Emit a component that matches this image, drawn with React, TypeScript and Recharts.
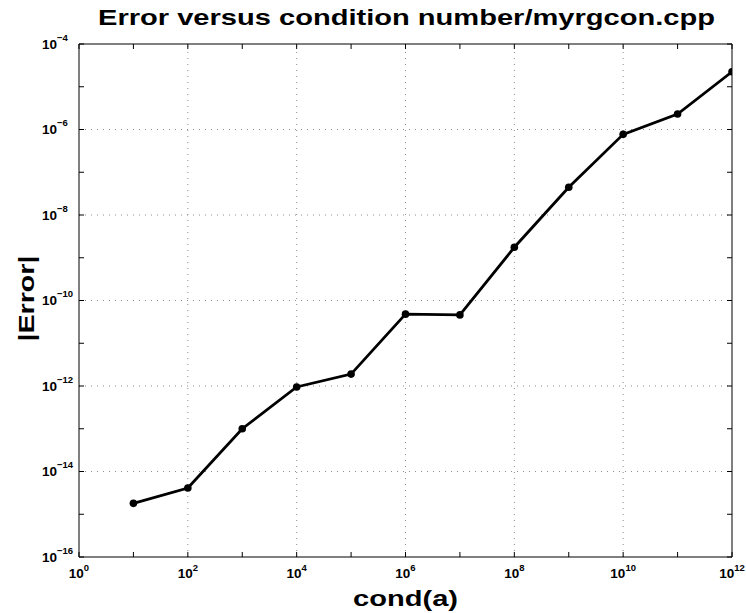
import React from 'react';
import { LineChart, Line, XAxis, YAxis, ReferenceLine } from 'recharts';

// ---- data ----
const condValues = [1e1, 1e2, 1e3, 1e4, 1e5, 1e6, 1e7, 1e8, 1e9, 1e10, 1e11, 1e12];
const errorValues = [1.8e-15, 4.1e-15, 1.0e-13, 9.5e-13, 1.9e-12, 4.8e-11, 4.6e-11, 1.76e-9, 4.45e-8, 7.7e-7, 2.3e-6, 2.24e-5];
const xTickExponents = [0, 1, 2, 3, 4, 5, 6, 7, 8, 9, 10, 11, 12];
const yTickExponents = [-16, -15, -14, -13, -12, -11, -10, -9, -8, -7, -6, -5, -4];
const xGridExponents = [2, 4, 6, 8, 10];
const yGridExponents = [-14, -12, -10, -8, -6];
const titleText = 'Error versus condition number/myrgcon.cpp';
const xLabelText = 'cond(a)';
const yLabelText = '|Error|';

const data = condValues.map((c, i) => ({ cond: c, err: errorValues[i] }));
const xTicks = xTickExponents.map((e) => Math.pow(10, e));
const yTicks = yTickExponents.map((e) => Math.pow(10, e));
const xDomain = [xTicks[0], xTicks[xTicks.length - 1]];
const yDomain = [yTicks[0], yTicks[yTicks.length - 1]];

const FONT = '"Liberation Sans", Arial, Helvetica, sans-serif';
const TICK = 5;

const expOf = (v: number) => Math.round(Math.log10(v));

function BottomTick(props: any) {
  const { x, y, payload } = props;
  const e = expOf(payload.value);
  return (
    <g>
      <line x1={x} x2={x} y1={y} y2={y - TICK} stroke="#000" strokeWidth={1} />
      {e % 2 === 0 && (
        <text x={x} y={y + 21} textAnchor="middle" fontFamily={FONT} fontWeight="bold" fontSize={13.5} fill="#000">
          10<tspan fontSize={9.5} dy={-7}>{e}</tspan>
        </text>
      )}
    </g>
  );
}

function TopTick(props: any) {
  const { x, y } = props;
  return <line x1={x} x2={x} y1={y} y2={y + TICK} stroke="#000" strokeWidth={1} />;
}

function LeftTick(props: any) {
  const { x, y, payload } = props;
  const e = expOf(payload.value);
  return (
    <g>
      <line x1={x} x2={x + TICK} y1={y} y2={y} stroke="#000" strokeWidth={1} />
      {e % 2 === 0 && (
        <text x={x - 37} y={y + 4.5} textAnchor="start" fontFamily={FONT} fontWeight="bold" fontSize={13.5} fill="#000">
          10<tspan fontSize={9.5} dy={-8}>{'\u2212' + Math.abs(e)}</tspan>
        </text>
      )}
    </g>
  );
}

function RightTick(props: any) {
  const { x, y } = props;
  return <line x1={x} x2={x - TICK} y1={y} y2={y} stroke="#000" strokeWidth={1} />;
}

function TitleLabel(props: any) {
  const vb = props.viewBox || { x: 0, y: 0, width: 0, height: 0 };
  return (
    <text x={vb.x + vb.width / 2 + 1} y={vb.y - 18} textAnchor="middle" fontFamily={FONT} fontWeight="bold" fontSize={22.5} fill="#000" textLength={617} lengthAdjust="spacingAndGlyphs">
      {titleText}
    </text>
  );
}

function XLabel(props: any) {
  const vb = props.viewBox || { x: 0, y: 0, width: 0, height: 0 };
  return (
    <text x={vb.x + vb.width / 2} y={vb.y + 49} textAnchor="middle" fontFamily={FONT} fontWeight="bold" fontSize={22.5} fill="#000" textLength={105} lengthAdjust="spacingAndGlyphs">
      {xLabelText}
    </text>
  );
}

function YLabel(props: any) {
  const vb = props.viewBox || { x: 0, y: 0, width: 0, height: 0 };
  const cx = vb.x + 34;
  const cy = vb.y + vb.height / 2 - 2;
  return (
    <text x={cx} y={cy} transform={`rotate(-90, ${cx}, ${cy})`} textAnchor="middle" fontFamily={FONT} fontWeight="bold" fontSize={22.5} fill="#000" textLength={86} lengthAdjust="spacingAndGlyphs">
      {yLabelText}
    </text>
  );
}

export default function App() {
  return (
    <div style={{ position: 'absolute', left: 0, top: 0, background: '#fff' }}>
      <LineChart width={746} height={613} data={data} margin={{ top: 43, right: 13, bottom: 0, left: 0 }}>
        <XAxis
          xAxisId="b"
          dataKey="cond"
          type="number"
          scale="log"
          domain={xDomain}
          ticks={xTicks}
          allowDataOverflow
          interval={0}
          orientation="bottom"
          height={56}
          tickSize={0}
          tickMargin={0}
          tickLine={false}
          axisLine={{ stroke: '#000', strokeWidth: 1 }}
          tick={<BottomTick />}
          label={<XLabel />}
        />
        <XAxis
          xAxisId="t"
          dataKey="cond"
          type="number"
          scale="log"
          domain={xDomain}
          ticks={xTicks}
          allowDataOverflow
          interval={0}
          orientation="top"
          height={1}
          tickSize={0}
          tickMargin={0}
          tickLine={false}
          axisLine={{ stroke: '#000', strokeWidth: 1 }}
          tick={<TopTick />}
          label={<TitleLabel />}
        />
        <YAxis
          yAxisId="l"
          dataKey="err"
          type="number"
          scale="log"
          domain={yDomain}
          ticks={yTicks}
          allowDataOverflow
          interval={0}
          orientation="left"
          width={79}
          tickSize={0}
          tickMargin={0}
          tickLine={false}
          axisLine={{ stroke: '#000', strokeWidth: 1 }}
          tick={<LeftTick />}
          label={<YLabel />}
        />
        <YAxis
          yAxisId="r"
          dataKey="err"
          type="number"
          scale="log"
          domain={yDomain}
          ticks={yTicks}
          allowDataOverflow
          interval={0}
          orientation="right"
          width={1}
          tickSize={0}
          tickMargin={0}
          tickLine={false}
          axisLine={{ stroke: '#000', strokeWidth: 1 }}
          tick={<RightTick />}
        />
        {xGridExponents.map((e) => (
          <ReferenceLine key={'gx' + e} xAxisId="b" yAxisId="l" x={Math.pow(10, e)} stroke="#8c8c8c" strokeWidth={1} strokeDasharray="1 5" />
        ))}
        {yGridExponents.map((e) => (
          <ReferenceLine key={'gy' + e} xAxisId="b" yAxisId="l" y={Math.pow(10, e)} stroke="#8c8c8c" strokeWidth={1} strokeDasharray="1 5" />
        ))}
        <Line
          xAxisId="b"
          yAxisId="l"
          dataKey="err"
          type="linear"
          stroke="#000"
          strokeWidth={2.8}
          dot={{ r: 3.8, fill: '#000', stroke: '#000', strokeWidth: 0 }}
          activeDot={false}
          isAnimationActive={false}
        />
      </LineChart>
    </div>
  );
}
